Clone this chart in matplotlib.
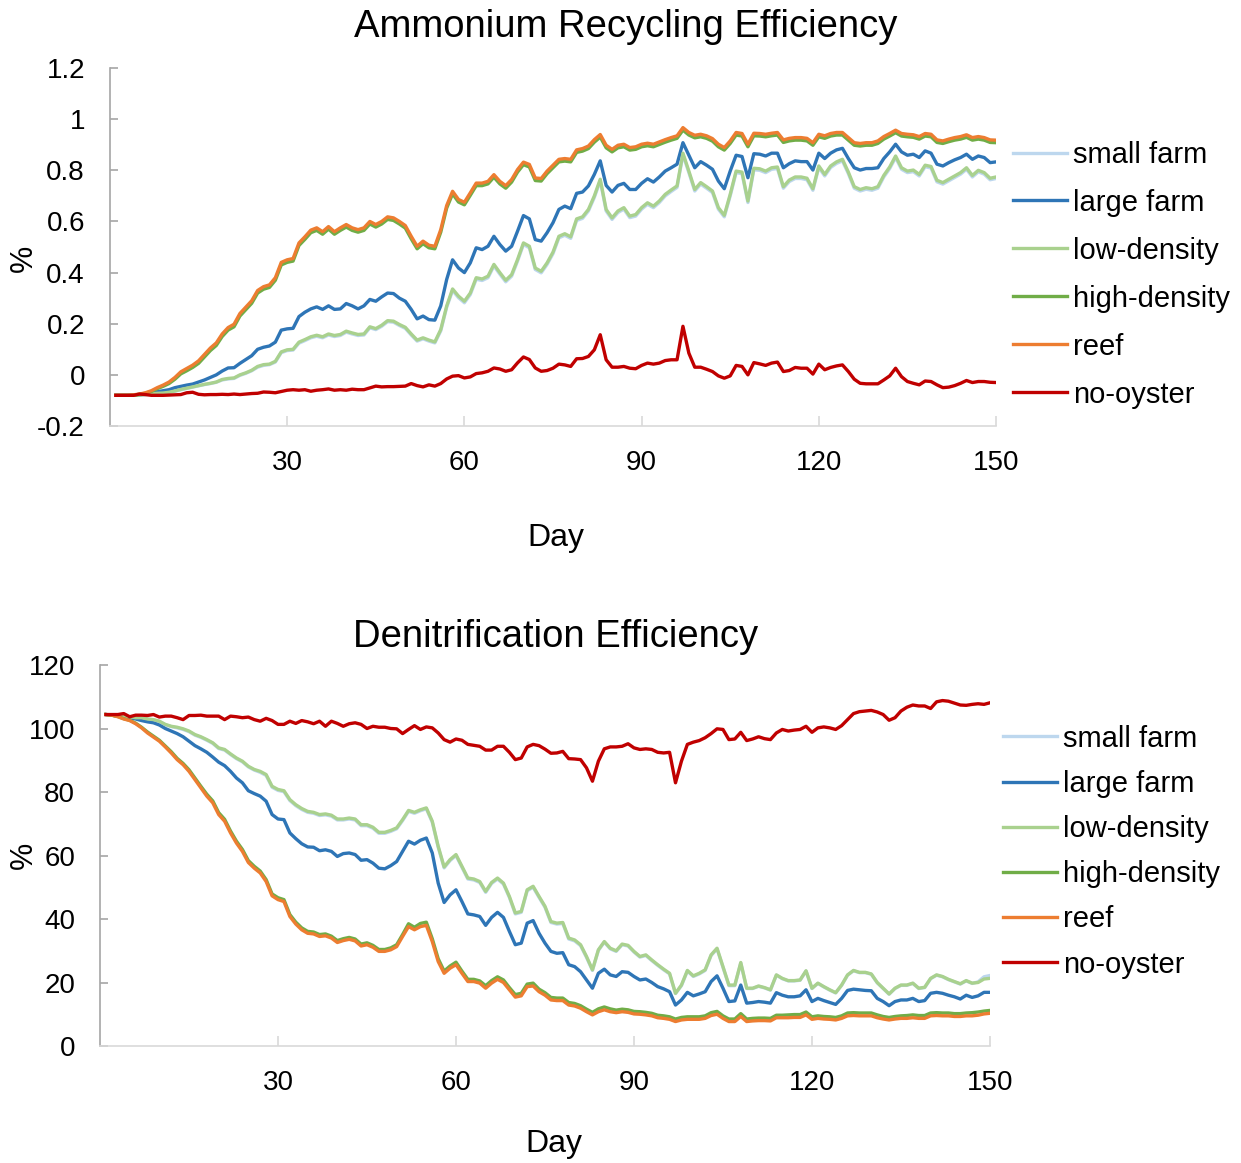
import numpy as np
import matplotlib
matplotlib.use('Agg')
import matplotlib.pyplot as plt

plt.rcParams['font.family'] = ['Liberation Sans', 'DejaVu Sans']

days = np.arange(1, 151)
series_names = ['small farm', 'large farm', 'low-density', 'high-density', 'reef', 'no-oyster']
series_colors = ['#BDD7EE', '#2E75B6', '#A9D18E', '#70AD47', '#ED7D31', '#C00000']

# Ammonium recycling efficiency (%), one value per day
amm_small_farm = [
    -0.08, -0.08, -0.08, -0.08, -0.08, -0.078, -0.075, -0.073, -0.072, -0.069,
    -0.064, -0.058, -0.053, -0.048, -0.043, -0.038, -0.034, -0.029, -0.02, -0.016,
    -0.014, -0.002, 0.006, 0.016, 0.03, 0.037, 0.04, 0.05, 0.087, 0.095,
    0.097, 0.124, 0.134, 0.145, 0.151, 0.145, 0.156, 0.15, 0.154, 0.167,
    0.16, 0.154, 0.156, 0.184, 0.177, 0.19, 0.208, 0.206, 0.193, 0.182,
    0.156, 0.132, 0.141, 0.132, 0.125, 0.172, 0.264, 0.33, 0.302, 0.282,
    0.314, 0.374, 0.369, 0.38, 0.426, 0.394, 0.364, 0.386, 0.445, 0.51,
    0.497, 0.412, 0.399, 0.432, 0.474, 0.536, 0.546, 0.534, 0.604, 0.612,
    0.641, 0.694, 0.759, 0.641, 0.608, 0.635, 0.648, 0.615, 0.621, 0.648,
    0.667, 0.654, 0.674, 0.70, 0.717, 0.733, 0.861, 0.791, 0.719, 0.746,
    0.73, 0.713, 0.648, 0.618, 0.70, 0.791, 0.787, 0.674, 0.802, 0.80,
    0.791, 0.804, 0.807, 0.73, 0.756, 0.768, 0.768, 0.763, 0.722, 0.811,
    0.778, 0.811, 0.827, 0.837, 0.787, 0.73, 0.719, 0.726, 0.722, 0.73,
    0.774, 0.807, 0.85, 0.804, 0.791, 0.795, 0.778, 0.814, 0.809, 0.755,
    0.746, 0.759, 0.772, 0.785, 0.804, 0.774, 0.794, 0.785, 0.763, 0.768]
amm_large_farm = [
    -0.08, -0.08, -0.08, -0.08, -0.078, -0.075, -0.07, -0.066, -0.062, -0.058,
    -0.05, -0.045, -0.04, -0.036, -0.028, -0.02, -0.01, 0.0, 0.015, 0.027,
    0.028, 0.045, 0.06, 0.075, 0.1, 0.108, 0.113, 0.128, 0.175, 0.18,
    0.182, 0.228, 0.245, 0.258, 0.266, 0.256, 0.27, 0.256, 0.258, 0.279,
    0.27, 0.258, 0.27, 0.295, 0.288, 0.305, 0.32, 0.318, 0.30, 0.288,
    0.256, 0.219, 0.23, 0.216, 0.214, 0.27, 0.373, 0.45, 0.418, 0.40,
    0.438, 0.497, 0.49, 0.503, 0.542, 0.51, 0.484, 0.503, 0.562, 0.623,
    0.61, 0.529, 0.523, 0.556, 0.595, 0.647, 0.66, 0.65, 0.71, 0.715,
    0.739, 0.784, 0.837, 0.741, 0.715, 0.741, 0.749, 0.725, 0.725, 0.749,
    0.767, 0.754, 0.774, 0.797, 0.81, 0.824, 0.908, 0.859, 0.81, 0.834,
    0.82, 0.804, 0.758, 0.728, 0.797, 0.859, 0.854, 0.771, 0.865, 0.863,
    0.856, 0.867, 0.867, 0.81, 0.826, 0.837, 0.834, 0.834, 0.801, 0.867,
    0.846, 0.867, 0.88, 0.886, 0.846, 0.81, 0.801, 0.807, 0.807, 0.81,
    0.846, 0.872, 0.902, 0.872, 0.859, 0.863, 0.85, 0.876, 0.867, 0.824,
    0.817, 0.83, 0.841, 0.85, 0.863, 0.843, 0.856, 0.85, 0.83, 0.833]
amm_low_density = [
    -0.08, -0.08, -0.08, -0.08, -0.079, -0.077, -0.074, -0.072, -0.071, -0.068,
    -0.063, -0.057, -0.052, -0.047, -0.042, -0.037, -0.033, -0.028, -0.018, -0.014,
    -0.012, 0.0, 0.008, 0.018, 0.033, 0.04, 0.042, 0.053, 0.09, 0.098,
    0.1, 0.128, 0.138, 0.149, 0.155, 0.149, 0.16, 0.154, 0.158, 0.171,
    0.164, 0.158, 0.16, 0.188, 0.181, 0.194, 0.212, 0.21, 0.197, 0.186,
    0.16, 0.136, 0.145, 0.136, 0.129, 0.177, 0.269, 0.336, 0.308, 0.288,
    0.32, 0.38, 0.375, 0.386, 0.432, 0.40, 0.37, 0.392, 0.451, 0.516,
    0.503, 0.418, 0.405, 0.438, 0.48, 0.542, 0.552, 0.54, 0.61, 0.618,
    0.647, 0.70, 0.765, 0.647, 0.614, 0.641, 0.654, 0.621, 0.627, 0.654,
    0.673, 0.66, 0.68, 0.706, 0.723, 0.739, 0.867, 0.797, 0.725, 0.752,
    0.736, 0.719, 0.654, 0.624, 0.706, 0.797, 0.793, 0.68, 0.808, 0.806,
    0.797, 0.81, 0.813, 0.736, 0.762, 0.774, 0.774, 0.769, 0.728, 0.817,
    0.784, 0.817, 0.833, 0.843, 0.793, 0.736, 0.725, 0.732, 0.728, 0.736,
    0.78, 0.813, 0.856, 0.81, 0.797, 0.801, 0.784, 0.82, 0.815, 0.761,
    0.752, 0.765, 0.778, 0.791, 0.81, 0.78, 0.80, 0.791, 0.769, 0.774]
amm_high_density = [
    -0.08, -0.08, -0.08, -0.079, -0.076, -0.072, -0.065, -0.054, -0.045, -0.034,
    -0.017, 0.004, 0.016, 0.029, 0.045, 0.07, 0.095, 0.115, 0.15, 0.175,
    0.188, 0.23, 0.255, 0.28, 0.32, 0.335, 0.342, 0.37, 0.43, 0.44,
    0.445, 0.506, 0.53, 0.556, 0.565, 0.55, 0.57, 0.55, 0.565, 0.578,
    0.565, 0.558, 0.565, 0.59, 0.578, 0.59, 0.608, 0.604, 0.59, 0.574,
    0.532, 0.493, 0.513, 0.497, 0.493, 0.558, 0.652, 0.708, 0.676, 0.665,
    0.702, 0.74, 0.74, 0.747, 0.773, 0.747, 0.73, 0.754, 0.793, 0.822,
    0.813, 0.76, 0.758, 0.787, 0.81, 0.833, 0.836, 0.833, 0.87, 0.875,
    0.885, 0.91, 0.93, 0.888, 0.872, 0.888, 0.892, 0.879, 0.882, 0.892,
    0.896, 0.892, 0.901, 0.91, 0.918, 0.925, 0.957, 0.938, 0.927, 0.931,
    0.925, 0.914, 0.892, 0.879, 0.905, 0.938, 0.934, 0.892, 0.935, 0.934,
    0.931, 0.935, 0.938, 0.909, 0.915, 0.918, 0.918, 0.915, 0.898, 0.931,
    0.925, 0.934, 0.938, 0.938, 0.918, 0.898, 0.895, 0.898, 0.898, 0.905,
    0.922, 0.934, 0.947, 0.934, 0.931, 0.929, 0.922, 0.934, 0.931, 0.909,
    0.905, 0.912, 0.918, 0.922, 0.929, 0.918, 0.922, 0.918, 0.909, 0.908]
amm_reef = [
    -0.08, -0.08, -0.08, -0.078, -0.075, -0.07, -0.062, -0.05, -0.04, -0.028,
    -0.01, 0.012, 0.025, 0.038, 0.055, 0.08, 0.105, 0.125, 0.16, 0.185,
    0.198, 0.24, 0.265, 0.29, 0.33, 0.345, 0.352, 0.38, 0.44, 0.45,
    0.455, 0.516, 0.54, 0.566, 0.575, 0.56, 0.58, 0.56, 0.575, 0.588,
    0.575, 0.568, 0.575, 0.60, 0.588, 0.60, 0.618, 0.614, 0.60, 0.584,
    0.542, 0.503, 0.523, 0.507, 0.503, 0.568, 0.662, 0.718, 0.686, 0.675,
    0.712, 0.75, 0.75, 0.757, 0.783, 0.757, 0.74, 0.764, 0.803, 0.832,
    0.823, 0.77, 0.768, 0.797, 0.82, 0.843, 0.846, 0.843, 0.88, 0.885,
    0.895, 0.92, 0.94, 0.898, 0.882, 0.898, 0.902, 0.889, 0.892, 0.902,
    0.906, 0.902, 0.911, 0.92, 0.928, 0.935, 0.967, 0.948, 0.937, 0.941,
    0.935, 0.924, 0.902, 0.889, 0.915, 0.948, 0.944, 0.902, 0.945, 0.944,
    0.941, 0.945, 0.948, 0.919, 0.925, 0.928, 0.928, 0.925, 0.908, 0.941,
    0.935, 0.944, 0.948, 0.948, 0.928, 0.908, 0.905, 0.908, 0.908, 0.915,
    0.932, 0.944, 0.957, 0.944, 0.941, 0.939, 0.932, 0.944, 0.941, 0.919,
    0.915, 0.922, 0.928, 0.932, 0.939, 0.928, 0.932, 0.928, 0.919, 0.918]
amm_no_oyster = [
    -0.08, -0.08, -0.08, -0.08, -0.075, -0.077, -0.08, -0.08, -0.08, -0.079,
    -0.078, -0.077, -0.07, -0.068, -0.076, -0.078, -0.077, -0.077, -0.076, -0.077,
    -0.075, -0.077, -0.075, -0.073, -0.072, -0.067, -0.068, -0.07, -0.065, -0.06,
    -0.058, -0.06, -0.058, -0.064, -0.06, -0.058, -0.055, -0.06, -0.058, -0.06,
    -0.056, -0.058, -0.058, -0.051, -0.044, -0.047, -0.046, -0.046, -0.045, -0.044,
    -0.034, -0.042, -0.047, -0.039, -0.044, -0.034, -0.016, -0.005, -0.003, -0.012,
    -0.008, 0.005, 0.008, 0.014, 0.027, 0.023, 0.014, 0.02, 0.047, 0.07,
    0.06, 0.027, 0.014, 0.017, 0.026, 0.042, 0.039, 0.033, 0.063, 0.064,
    0.072, 0.098, 0.157, 0.059, 0.03, 0.03, 0.033, 0.026, 0.024, 0.037,
    0.046, 0.042, 0.046, 0.056, 0.059, 0.059, 0.19, 0.085, 0.03, 0.03,
    0.022, 0.013, -0.004, -0.013, -0.004, 0.037, 0.033, 0.0, 0.048, 0.043,
    0.037, 0.046, 0.05, 0.013, 0.017, 0.029, 0.026, 0.026, 0.003, 0.042,
    0.02, 0.029, 0.035, 0.039, 0.013, -0.017, -0.033, -0.035, -0.035, -0.035,
    -0.02, -0.004, 0.026, -0.007, -0.026, -0.033, -0.039, -0.024, -0.026, -0.039,
    -0.05, -0.048, -0.042, -0.033, -0.022, -0.03, -0.026, -0.026, -0.029, -0.03]

# Denitrification efficiency (%), one value per day
den_small_farm = [
    104.4, 104.2, 103.9, 103.7, 103.6, 103.3, 103.3, 102.9, 102.7, 102.2,
    101.2, 100.6, 100.2, 99.7, 99.0, 97.9, 97.2, 96.3, 95.3, 93.7,
    93.2, 91.8, 90.5, 89.5, 87.9, 86.9, 86.2, 85.2, 81.5, 80.5,
    80.1, 77.3, 75.7, 74.5, 73.6, 73.3, 72.6, 72.8, 72.4, 71.2,
    71.2, 71.5, 71.2, 69.4, 69.4, 68.6, 67.0, 67.0, 67.6, 68.4,
    71.0, 73.9, 73.3, 74.1, 74.7, 70.5, 62.6, 56.1, 58.4, 60.0,
    56.3, 52.6, 52.3, 51.5, 48.4, 51.2, 52.6, 51.0, 46.8, 41.6,
    42.1, 48.9, 50.0, 46.8, 43.7, 38.9, 38.4, 38.6, 33.7, 33.1,
    31.6, 27.9, 23.8, 30.1, 32.7, 30.6, 29.8, 31.9, 31.5, 29.6,
    28.0, 28.5, 26.9, 25.4, 24.0, 22.7, 16.5, 19.0, 23.6, 21.9,
    22.7, 23.8, 28.5, 30.6, 24.8, 19.0, 19.0, 26.1, 18.1, 18.1,
    18.8, 18.3, 17.6, 22.3, 21.2, 20.5, 20.5, 20.7, 23.6, 18.1,
    19.7, 18.6, 17.6, 16.7, 19.1, 22.3, 23.7, 23.1, 23.1, 22.6,
    19.9, 18.1, 16.3, 18.1, 19.1, 19.1, 19.7, 18.1, 18.4, 21.2,
    22.3, 21.8, 20.9, 20.2, 19.5, 20.5, 19.7, 20.2, 21.8, 22.2]
den_large_farm = [
    104.4, 104.2, 103.9, 103.7, 103.4, 103.0, 102.5, 102.1, 101.8, 101.1,
    100.0, 99.2, 98.4, 97.4, 96.0, 94.6, 93.6, 92.5, 91.0, 89.4,
    88.3, 86.5, 84.4, 82.9, 80.4, 79.5, 78.7, 77.1, 72.9, 71.5,
    71.3, 67.1, 65.3, 63.7, 62.7, 62.6, 61.5, 61.8, 61.3, 59.7,
    60.6, 60.8, 60.3, 58.5, 58.7, 57.6, 56.0, 55.8, 56.8, 58.1,
    61.3, 64.5, 63.6, 64.8, 65.5, 60.8, 51.3, 45.2, 47.6, 49.2,
    45.5, 41.6, 41.3, 40.8, 38.0, 40.5, 42.1, 40.5, 36.1, 31.9,
    32.4, 38.7, 39.5, 35.5, 32.4, 29.8, 29.2, 29.4, 25.6, 25.0,
    23.4, 20.8, 18.2, 22.9, 24.2, 22.4, 21.9, 23.4, 23.2, 21.9,
    20.8, 21.1, 20.0, 18.7, 18.0, 17.1, 12.9, 14.5, 16.9, 15.8,
    16.4, 17.1, 20.3, 22.1, 18.2, 14.0, 14.2, 19.2, 13.5, 13.7,
    14.0, 13.8, 13.5, 16.8, 16.0, 15.5, 15.5, 15.8, 17.7, 14.0,
    15.0, 14.3, 13.7, 13.1, 15.0, 17.5, 17.9, 17.7, 17.5, 17.4,
    15.0, 14.0, 12.7, 14.0, 14.5, 14.5, 15.0, 14.0, 14.3, 16.6,
    16.9, 16.6, 16.0, 15.5, 14.8, 16.0, 15.3, 15.8, 16.9, 16.9]
den_low_density = [
    104.4, 104.2, 103.9, 103.7, 103.7, 103.4, 103.4, 103.0, 102.8, 102.3,
    101.3, 100.7, 100.4, 99.9, 99.2, 98.1, 97.4, 96.5, 95.5, 93.9,
    93.4, 92.0, 90.7, 89.7, 88.1, 87.1, 86.5, 85.5, 81.8, 80.8,
    80.4, 77.6, 76.0, 74.8, 73.9, 73.6, 72.9, 73.1, 72.7, 71.5,
    71.5, 71.8, 71.5, 69.7, 69.7, 68.9, 67.3, 67.3, 67.9, 68.7,
    71.3, 74.2, 73.6, 74.4, 75.0, 70.8, 62.9, 56.4, 58.7, 60.3,
    56.6, 52.9, 52.6, 51.8, 48.7, 51.5, 52.9, 51.3, 47.1, 41.9,
    42.4, 49.2, 50.3, 47.1, 44.0, 39.2, 38.7, 38.9, 34.0, 33.4,
    31.9, 28.2, 24.0, 30.3, 32.9, 30.8, 30.0, 32.1, 31.7, 29.8,
    28.2, 28.7, 27.1, 25.6, 24.2, 22.9, 16.6, 19.2, 23.8, 22.1,
    22.9, 24.0, 28.7, 30.8, 25.0, 19.2, 19.2, 26.3, 18.2, 18.2,
    18.9, 18.4, 17.7, 22.4, 21.3, 20.6, 20.6, 20.8, 23.7, 18.2,
    19.8, 18.7, 17.7, 16.8, 19.2, 22.4, 23.8, 23.2, 23.2, 22.7,
    20.0, 18.2, 16.4, 18.2, 19.2, 19.2, 19.8, 18.2, 18.5, 21.3,
    22.4, 21.9, 21.0, 20.3, 19.6, 20.6, 19.8, 20.0, 21.1, 21.3]
den_high_density = [
    104.4, 104.2, 103.8, 103.1, 102.6, 101.7, 100.4, 98.9, 97.6, 96.3,
    94.5, 92.7, 90.6, 89.0, 87.0, 84.4, 81.8, 79.3, 77.2, 73.5,
    71.4, 67.7, 64.5, 61.9, 58.4, 56.6, 55.1, 52.4, 47.9, 46.7,
    46.1, 41.4, 39.0, 37.2, 36.1, 35.9, 35.1, 35.3, 34.6, 33.2,
    33.8, 34.2, 33.7, 32.1, 32.5, 31.7, 30.4, 30.4, 30.9, 31.9,
    35.1, 38.5, 37.4, 38.6, 39.0, 33.8, 27.5, 23.6, 25.2, 26.4,
    23.6, 21.0, 21.0, 20.5, 19.0, 20.6, 21.8, 20.8, 18.4, 16.2,
    16.6, 19.5, 19.8, 17.9, 16.8, 15.3, 15.1, 15.1, 13.7, 13.4,
    12.7, 11.6, 10.6, 11.7, 12.3, 11.7, 11.3, 11.6, 11.4, 10.9,
    10.8, 10.6, 10.3, 9.7, 9.5, 9.2, 8.5, 9.0, 9.2, 9.2,
    9.2, 9.5, 10.5, 10.9, 9.5, 8.5, 8.5, 10.2, 8.5, 8.7,
    8.8, 8.8, 8.7, 9.7, 9.7, 9.8, 9.9, 9.9, 10.7, 9.2,
    9.5, 9.3, 9.2, 9.0, 9.5, 10.4, 10.5, 10.4, 10.4, 10.4,
    9.8, 9.3, 9.0, 9.3, 9.5, 9.6, 9.8, 9.6, 9.6, 10.4,
    10.5, 10.4, 10.4, 10.2, 10.2, 10.4, 10.5, 10.7, 11.0, 11.2]
den_reef = [
    104.4, 104.2, 103.7, 103.0, 102.5, 101.5, 100.2, 98.6, 97.3, 96.0,
    94.2, 92.3, 90.2, 88.6, 86.5, 83.9, 81.3, 78.7, 76.6, 72.9,
    70.8, 67.1, 63.9, 61.3, 57.8, 56.0, 54.5, 51.8, 47.3, 46.1,
    45.5, 40.8, 38.4, 36.6, 35.5, 35.3, 34.5, 34.7, 34.0, 32.6,
    33.2, 33.6, 33.1, 31.5, 31.9, 31.1, 29.8, 29.8, 30.3, 31.3,
    34.5, 37.6, 36.6, 37.6, 38.0, 32.9, 26.6, 22.9, 24.5, 25.6,
    22.9, 20.3, 20.3, 19.8, 18.2, 19.8, 21.0, 20.0, 17.7, 15.4,
    15.8, 18.7, 18.9, 17.1, 16.0, 14.5, 14.3, 14.3, 12.9, 12.6,
    11.9, 10.8, 9.8, 10.8, 11.4, 10.8, 10.5, 10.8, 10.6, 10.1,
    10.0, 9.8, 9.5, 8.9, 8.7, 8.4, 7.7, 8.2, 8.4, 8.4,
    8.4, 8.7, 9.6, 10.0, 8.7, 7.7, 7.7, 9.3, 7.7, 7.9,
    8.0, 8.0, 7.9, 8.9, 8.9, 8.9, 9.0, 9.0, 9.8, 8.4,
    8.7, 8.5, 8.4, 8.2, 8.7, 9.5, 9.6, 9.5, 9.5, 9.5,
    8.9, 8.5, 8.2, 8.5, 8.7, 8.7, 8.9, 8.7, 8.7, 9.5,
    9.6, 9.5, 9.5, 9.3, 9.3, 9.5, 9.5, 9.7, 10.1, 10.3]
den_no_oyster = [
    104.4, 104.4, 104.4, 104.7, 103.7, 104.2, 104.2, 104.1, 104.4, 103.6,
    103.9, 103.9, 103.4, 102.8, 104.1, 104.1, 104.2, 103.9, 103.9, 103.9,
    102.8, 103.9, 103.7, 103.4, 103.6, 102.8, 102.3, 103.2, 102.5, 101.3,
    101.3, 102.3, 101.6, 102.5, 102.1, 101.5, 102.3, 100.7, 102.3, 101.6,
    100.7, 101.5, 101.8, 101.3, 100.0, 100.7, 100.4, 100.4, 100.0, 99.9,
    98.4, 99.7, 100.9, 99.7, 100.5, 100.2, 98.6, 96.5, 95.7, 96.7,
    96.3, 95.0, 94.7, 94.4, 93.2, 93.2, 94.4, 94.4, 92.5, 90.2,
    90.7, 94.2, 95.0, 94.6, 93.5, 92.2, 92.3, 92.8, 90.5, 90.4,
    90.2, 87.6, 83.4, 89.7, 93.6, 94.2, 94.2, 94.4, 95.2, 93.9,
    93.4, 93.6, 93.4, 92.5, 92.3, 92.5, 82.9, 89.7, 95.0, 95.7,
    96.2, 97.1, 98.4, 99.9, 99.7, 96.5, 96.7, 98.8, 96.2, 96.7,
    97.4, 96.8, 96.5, 98.6, 99.7, 99.2, 99.5, 99.7, 100.7, 98.8,
    100.2, 100.5, 100.2, 99.7, 100.9, 102.8, 104.7, 105.3, 105.5, 105.7,
    105.2, 104.4, 102.6, 103.4, 105.5, 106.7, 107.4, 107.1, 107.1, 106.3,
    108.4, 108.8, 108.6, 108.0, 107.4, 107.3, 107.6, 107.8, 107.6, 108.1]

amm_series = [amm_small_farm, amm_large_farm, amm_low_density,
              amm_high_density, amm_reef, amm_no_oyster]
den_series = [den_small_farm, den_large_farm, den_low_density,
              den_high_density, den_reef, den_no_oyster]


def draw_panel(ax, data, ylim, yticks, yfmt, legend_anchor, label_spacing,
               xlabel_pos, ylabel_pos):
    for values, name, color in zip(data, series_names, series_colors):
        ax.plot(days, values, color=color, linewidth=2.4, label=name)

    ax.set_xlim(0, 150)
    ax.set_ylim(*ylim)
    ax.set_xticks([30, 60, 90, 120, 150])
    ax.set_yticks(yticks)
    ax.set_yticklabels([yfmt(v) for v in yticks])

    for side in ['top', 'right']:
        ax.spines[side].set_visible(False)
    ax.spines['left'].set_color('#A6A6A6')
    ax.spines['bottom'].set_color('#D9D9D9')
    ax.spines['left'].set_linewidth(1.2)
    ax.spines['bottom'].set_linewidth(1.2)
    ax.tick_params(axis='y', direction='in', length=6, width=1.2,
                   color='#A6A6A6', labelsize=20, pad=18)
    ax.tick_params(axis='x', direction='in', length=7, width=1.2,
                   color='#D9D9D9', labelsize=20, pad=17)

    ax.set_xlabel('Day', fontsize=23, va='center')
    ax.xaxis.set_label_coords(*xlabel_pos)
    ax.set_ylabel('%', fontsize=22, va='center')
    ax.yaxis.set_label_coords(*ylabel_pos)

    ax.legend(loc='upper left', bbox_to_anchor=legend_anchor,
              bbox_transform=ax.figure.transFigure, frameon=False,
              fontsize=21, handlelength=1.85, handletextpad=0.2,
              labelspacing=label_spacing, borderpad=0, borderaxespad=0)


fig = plt.figure(figsize=(12.41, 11.63), dpi=100)

ax1 = fig.add_axes([0.0886, 0.6337, 0.7140, 0.3078])
draw_panel(ax1, amm_series, (-0.2, 1.2), [-0.2, 0, 0.2, 0.4, 0.6, 0.8, 1.0, 1.2],
           lambda v: '0' if v == 0 else ('1' if v == 1 else f'{v:g}'),
           (0.8163, 0.879), 0.685, (0.503, -0.3125), (-0.097, 0.469))
fig.text(0.5044, 0.9765, 'Ammonium Recycling Efficiency', fontsize=27.5,
         ha='center', va='center')

ax2 = fig.add_axes([0.0806, 0.1006, 0.7171, 0.3276])
draw_panel(ax2, den_series, (0, 120), [0, 20, 40, 60, 80, 100, 120],
           lambda v: f'{v:g}', (0.8082, 0.377), 0.59, (0.510, -0.257),
           (-0.0856, 0.5))
fig.text(0.448, 0.4525, 'Denitrification Efficiency', fontsize=27.5,
         ha='center', va='center')

fig.savefig('out.png', dpi=100)
